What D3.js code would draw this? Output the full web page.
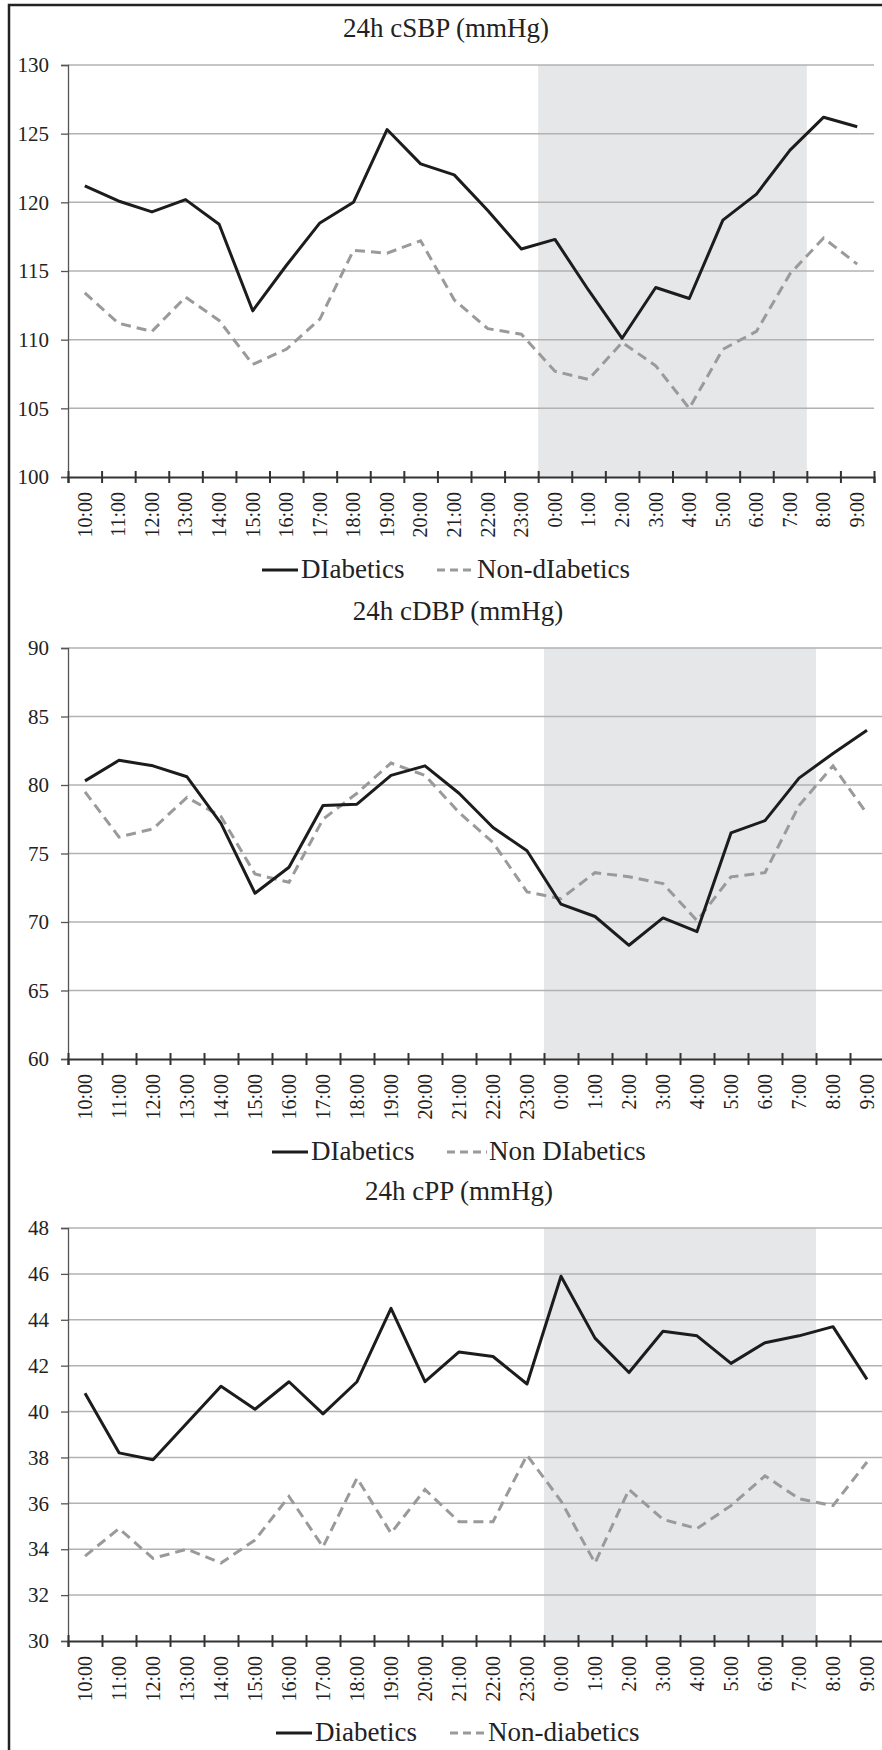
<!DOCTYPE html>
<html lang="en">
<head>
<meta charset="UTF-8">
<title>24h central BP profiles</title>
<script src="https://d3js.org/d3.v7.min.js"></script>
<style>
  body { margin: 0; background: #fff; }
  svg { display: block; }
  svg text { font-family: "Liberation Serif", "Times New Roman", serif; }
  .frame { fill: none; stroke: #222; stroke-width: 2.5; }
  .night { fill: #e6e7e9; }
  .grid line { stroke: #b2b2b2; stroke-width: 1.5; }
  .y-axis path, .y-axis line { stroke: #555; stroke-width: 1.3; }
  .x-axis path, .x-axis line { stroke: #333; stroke-width: 2; }
  .tick text { fill: #222; }
  .title, .legend text { fill: #222; }
  .diab { fill: none; stroke: #1c1c1c; stroke-width: 3; stroke-linejoin: round; }
  .nondiab { fill: none; stroke: #9a9a9a; stroke-width: 3; stroke-dasharray: 10 6; }
  .legend .nondiab { stroke-dasharray: 8 5; }
</style>
</head>
<body>
<svg width="882" height="1750"></svg>
<script>
// categories
const hours = ['10:00', '11:00', '12:00', '13:00', '14:00', '15:00', '16:00', '17:00',
  '18:00', '19:00', '20:00', '21:00', '22:00', '23:00', '0:00', '1:00', '2:00', '3:00',
  '4:00', '5:00', '6:00', '7:00', '8:00', '9:00'];
const nightStart = '0:00';
const nightEnd = '7:00';

// 24h cSBP
const sbpTicks = [100, 105, 110, 115, 120, 125, 130];
const sbpDiab = [121.2, 120.1, 119.3, 120.2, 118.4, 112.1, 115.4, 118.5, 120.0, 125.3, 122.8, 122.0,
  119.4, 116.6, 117.3, 113.6, 110.1, 113.8, 113.0, 118.7, 120.6, 123.8, 126.2, 125.5];
const sbpNon = [113.4, 111.2, 110.6, 113.1, 111.4, 108.2, 109.3, 111.5, 116.5, 116.3, 117.2, 112.9,
  110.8, 110.4, 107.7, 107.1, 109.8, 108.1, 105.0, 109.3, 110.6, 114.8, 117.4, 115.5];

// 24h cDBP
const dbpTicks = [60, 65, 70, 75, 80, 85, 90];
const dbpDiab = [80.3, 81.8, 81.4, 80.6, 77.2, 72.1, 74.0, 78.5, 78.6, 80.7, 81.4, 79.4,
  76.9, 75.2, 71.3, 70.4, 68.3, 70.3, 69.3, 76.5, 77.4, 80.5, 82.3, 84.0];
const dbpNon = [79.5, 76.2, 76.8, 79.1, 77.7, 73.5, 72.9, 77.5, 79.4, 81.6, 80.7, 78.0,
  75.8, 72.2, 71.7, 73.6, 73.3, 72.8, 70.1, 73.3, 73.6, 78.5, 81.4, 77.9];

// 24h cPP
const ppTicks = [30, 32, 34, 36, 38, 40, 42, 44, 46, 48];
const ppDiab = [40.8, 38.2, 37.9, 39.5, 41.1, 40.1, 41.3, 39.9, 41.3, 44.5, 41.3, 42.6,
  42.4, 41.2, 45.9, 43.2, 41.7, 43.5, 43.3, 42.1, 43.0, 43.3, 43.7, 41.4];
const ppNon = [33.7, 34.9, 33.6, 34.0, 33.4, 34.4, 36.3, 34.1, 37.1, 34.7, 36.6, 35.2,
  35.2, 38.1, 36.1, 33.4, 36.6, 35.3, 34.9, 35.9, 37.2, 36.2, 35.9, 37.8];

const titles = ['24h cSBP (mmHg)', '24h cDBP (mmHg)', '24h cPP (mmHg)'];
const legendLabels = [
  ['DIabetics', 'Non-dIabetics'],
  ['DIabetics', 'Non DIabetics'],
  ['Diabetics', 'Non-diabetics']
];

const svg = d3.select('svg');

svg.append('rect').attr('class', 'frame')
  .attr('x', 9).attr('y', 5).attr('width', 900).attr('height', 1800);

const panels = [
  { title: titles[0], legend: legendLabels[0], ticks: sbpTicks, diab: sbpDiab, non: sbpNon,
    top: 65, bottom: 477, right: 874, titleX: 446, titleY: 37, legY: 570,
    leg: [262, 298, 437, 475] },
  { title: titles[1], legend: legendLabels[1], ticks: dbpTicks, diab: dbpDiab, non: dbpNon,
    top: 648, bottom: 1059, right: 884, titleX: 458, titleY: 620, legY: 1152,
    leg: [272, 308, 447, 487] },
  { title: titles[2], legend: legendLabels[2], ticks: ppTicks, diab: ppDiab, non: ppNon,
    top: 1228, bottom: 1641, right: 884, titleX: 459, titleY: 1200, legY: 1733,
    leg: [276, 312, 450, 486] }
];

const left = 68;

panels.forEach(p => {
  const g = svg.append('g');

  const x = d3.scaleBand().domain(hours).range([left, p.right]);
  const xEdge = d3.scaleLinear().domain([0, hours.length]).range([left, p.right]);
  const y = d3.scaleLinear().domain(d3.extent(p.ticks)).range([p.bottom, p.top]);

  // night band 0:00 - 7:00
  g.append('rect').attr('class', 'night')
    .attr('x', x(nightStart))
    .attr('width', x(nightEnd) + x.bandwidth() - x(nightStart))
    .attr('y', y(p.ticks[p.ticks.length - 1]))
    .attr('height', y(p.ticks[0]) - y(p.ticks[p.ticks.length - 1]));

  // horizontal gridlines
  g.append('g').attr('class', 'grid')
    .selectAll('line').data(p.ticks.slice(1)).join('line')
    .attr('x1', left).attr('x2', p.right)
    .attr('y1', d => y(d)).attr('y2', d => y(d));

  // y axis
  g.append('g').attr('class', 'y-axis')
    .attr('transform', `translate(${left},0)`)
    .call(d3.axisLeft(y).tickValues(p.ticks).tickSizeOuter(0).tickSize(7).tickPadding(12))
    .attr('font-family', null).attr('font-size', null)
    .call(a => a.selectAll('text').style('font-size', '21px'));

  // x axis: cross ticks on category edges
  g.append('g').attr('class', 'x-axis')
    .attr('transform', `translate(0,${p.bottom})`)
    .call(d3.axisBottom(xEdge).tickValues(d3.range(hours.length + 1)).tickFormat('').tickSizeOuter(0).tickSize(6))
    .call(a => a.selectAll('.tick line').attr('y1', -6));

  // x labels, rotated
  g.append('g')
    .attr('transform', `translate(0,${p.bottom})`)
    .call(d3.axisBottom(x).tickSize(0))
    .attr('font-family', null).attr('font-size', null)
    .call(a => a.select('.domain').remove())
    .call(a => a.selectAll('text')
      .attr('transform', 'rotate(-90)')
      .attr('x', -15).attr('y', 0).attr('dy', '0.34em')
      .attr('text-anchor', 'end')
      .style('font-size', '20px'));

  const line = d3.line()
    .x((d, i) => x(hours[i]) + x.bandwidth() / 2)
    .y(d => y(d));

  g.append('path').attr('class', 'nondiab').attr('d', line(p.non));
  g.append('path').attr('class', 'diab').attr('d', line(p.diab));

  // title
  g.append('text').attr('class', 'title')
    .attr('x', p.titleX).attr('y', p.titleY)
    .attr('text-anchor', 'middle')
    .style('font-size', '27px')
    .text(p.title);

  // legend
  const lg = g.append('g').attr('class', 'legend');
  lg.append('line').attr('class', 'diab')
    .attr('x1', p.leg[0]).attr('x2', p.leg[1]).attr('y1', p.legY).attr('y2', p.legY);
  lg.append('text').attr('x', p.leg[1] + 3).attr('y', p.legY + 8)
    .style('font-size', '27px').text(p.legend[0]);
  lg.append('line').attr('class', 'nondiab')
    .attr('x1', p.leg[2]).attr('x2', p.leg[3]).attr('y1', p.legY).attr('y2', p.legY);
  lg.append('text').attr('x', p.leg[3] + 2).attr('y', p.legY + 8)
    .style('font-size', '27px').text(p.legend[1]);
});
</script>
</body>
</html>
